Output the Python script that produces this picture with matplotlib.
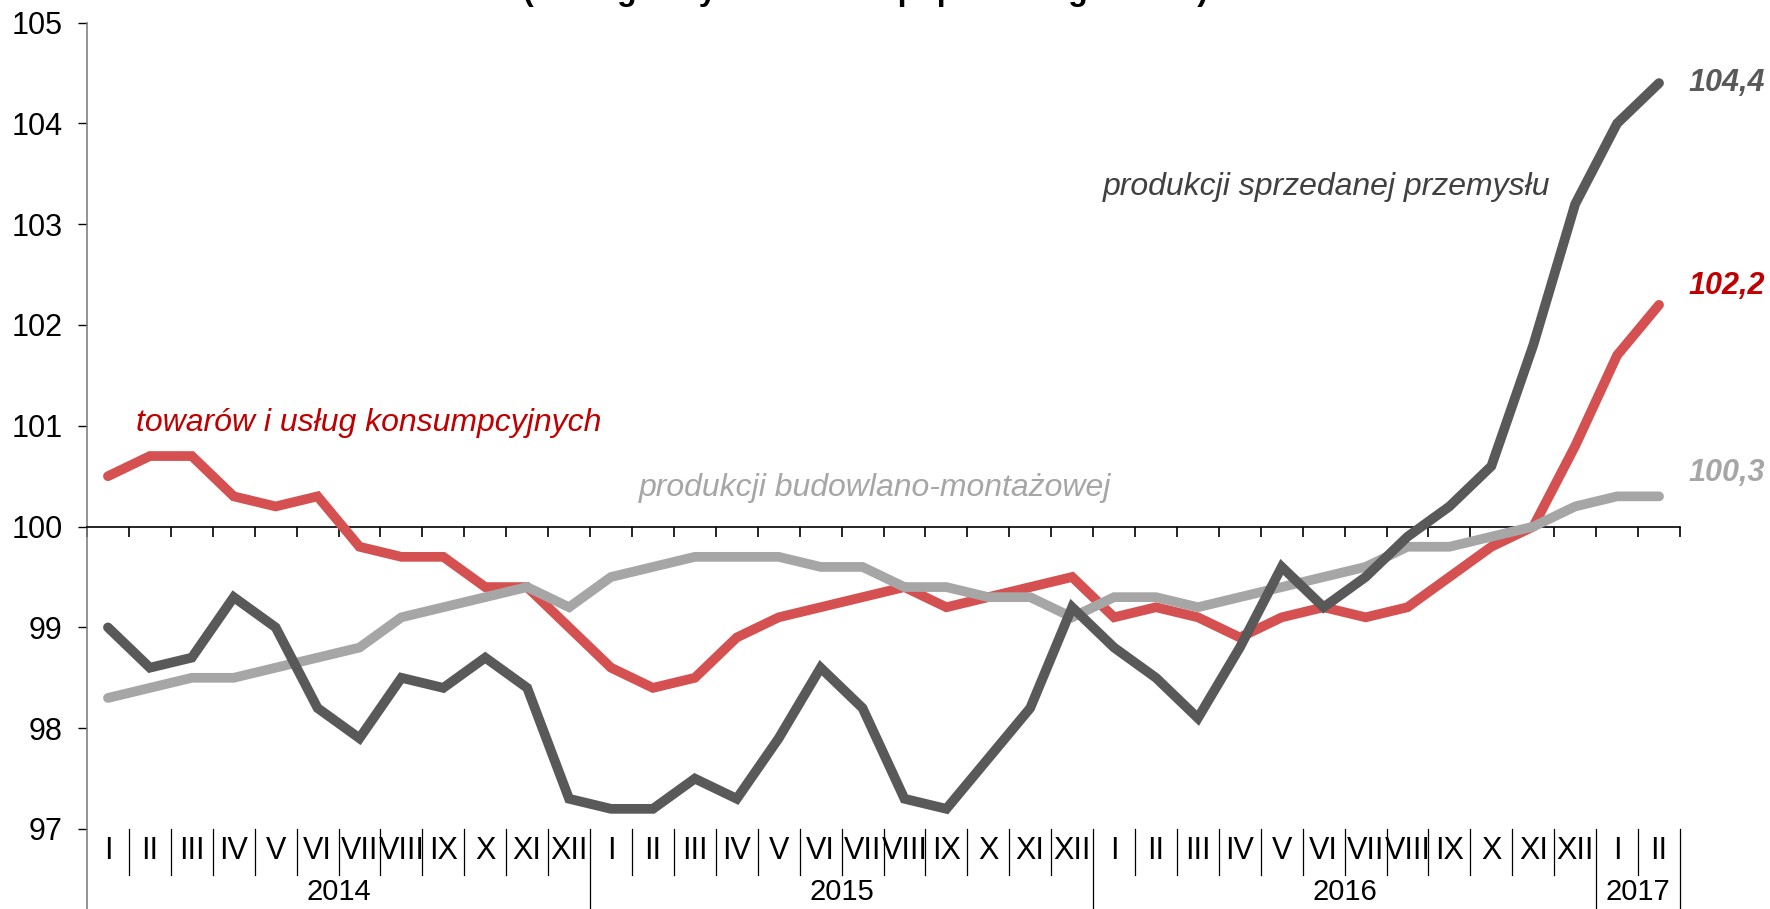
import numpy as np
import matplotlib
matplotlib.use('Agg')
import matplotlib.pyplot as plt
import matplotlib.transforms as mtransforms

plt.rcParams['font.family'] = ['Liberation Sans', 'DejaVu Sans']

# ---------------- data ----------------
months = ['I', 'II', 'III', 'IV', 'V', 'VI', 'VII', 'VIII', 'IX', 'X', 'XI', 'XII'] * 3 + ['I', 'II']
years = ['2014', '2015', '2016', '2017']
year_len = [12, 12, 12, 2]

konsumpcyjne = [100.5, 100.7, 100.7, 100.3, 100.2, 100.3, 99.8, 99.7, 99.7, 99.4, 99.4, 99.0,
                98.6, 98.4, 98.5, 98.9, 99.1, 99.2, 99.3, 99.4, 99.2, 99.3, 99.4, 99.5,
                99.1, 99.2, 99.1, 98.9, 99.1, 99.2, 99.1, 99.2, 99.5, 99.8, 100.0, 100.8,
                101.7, 102.2]
budowlane = [98.3, 98.4, 98.5, 98.5, 98.6, 98.7, 98.8, 99.1, 99.2, 99.3, 99.4, 99.2,
             99.5, 99.6, 99.7, 99.7, 99.7, 99.6, 99.6, 99.4, 99.4, 99.3, 99.3, 99.1,
             99.3, 99.3, 99.2, 99.3, 99.4, 99.5, 99.6, 99.8, 99.8, 99.9, 100.0, 100.2,
             100.3, 100.3]
przemysl = [99.0, 98.6, 98.7, 99.3, 99.0, 98.2, 97.9, 98.5, 98.4, 98.7, 98.4, 97.3,
            97.2, 97.2, 97.5, 97.3, 97.9, 98.6, 98.2, 97.3, 97.2, 97.7, 98.2, 99.2,
            98.8, 98.5, 98.1, 98.8, 99.6, 99.2, 99.5, 99.9, 100.2, 100.6, 101.8, 103.2,
            104.0, 104.4]

C_RED, C_DARK, C_GRAY = '#D55050', '#595959', '#A6A6A6'

fig = plt.figure(figsize=(17.7, 9.09), dpi=100)
ax = fig.add_axes([87 / 1770, 80 / 909, (1680 - 87) / 1770, (829 - 22.6) / 909])

x = np.arange(len(months))
kw = dict(lw=7, solid_capstyle='round', solid_joinstyle='miter')
ax.plot(x, konsumpcyjne, color=C_RED, zorder=3, **kw)
ax.plot(x, budowlane, color=C_GRAY, zorder=4, **kw)
ax.plot(x, przemysl, color=C_DARK, zorder=5, **kw)

ax.set_xlim(-0.5, len(months) - 0.5)
ax.set_ylim(97, 105)

# axes styling: x axis crosses at 100
for s in ['top', 'right']:
    ax.spines[s].set_visible(False)
ax.spines['left'].set_visible(False)
ax.spines['bottom'].set_position(('data', 100))
ax.spines['bottom'].set_linewidth(1.2)
ax.set_xticks(np.arange(-0.5, len(months), 1))
ax.tick_params(axis='x', direction='out', length=7, width=1.2, labelbottom=False)
ax.set_yticks(range(97, 106))
ax.tick_params(axis='y', direction='out', length=6.5, width=1, pad=11, labelsize=22)

trans = mtransforms.blended_transform_factory(ax.transData, ax.transAxes)
# left axis line running to bottom of the figure
ax.plot([-0.5, -0.5], [1, -0.1], transform=trans, color='#808080', lw=1.2, clip_on=False)

# category table under the plot
bounds = np.cumsum([0] + year_len) - 0.5
for b in np.arange(0.5, len(months) - 1, 1):
    if b not in bounds:
        ax.plot([b, b], [0, -0.057], transform=trans, color='black', lw=0.9, clip_on=False)
for b in bounds[1:]:
    ax.plot([b, b], [0, -0.1], transform=trans, color='black', lw=0.9, clip_on=False)
for i, m in enumerate(months):
    ax.text(i, -0.027, m, transform=trans, ha='center', va='center', fontsize=22)
start = 0
for y, n in zip(years, year_len):
    ax.text(start + (n - 1) / 2, -0.078, y, transform=trans, ha='center', va='center', fontsize=21)
    start += n

# series labels
lab = dict(fontsize=23, style='italic', va='center', ha='left')
ax.text(0.67, 101.03, 'towarów i usług konsumpcyjnych', color='#C00000', **lab)
ax.text(12.67, 100.38, 'produkcji budowlano-montażowej', color=C_GRAY, **lab)
ax.text(23.74, 103.37, 'produkcji sprzedanej przemysłu', color='#404040', **lab)

# end values
end = dict(fontsize=22, style='italic', fontweight='bold', va='center', ha='left',
           textcoords='offset points')
ax.annotate('104,4', xy=(x[-1], przemysl[-1]), xytext=(21, 0), color=C_DARK, **end)
ax.annotate('102,2', xy=(x[-1], konsumpcyjne[-1]), xytext=(21, 13.5), color='#C00000', **end)
ax.annotate('100,3', xy=(x[-1], budowlane[-1]), xytext=(21, 17), color=C_GRAY, **end)

# title, cut off by the top edge as in the source (only descenders show)
fig.text(0.489, 1.0, '(analogiczny okres roku poprzedniego = 100)', ha='center', va='baseline',
         fontsize=23, fontweight='bold')

fig.savefig('out.png', dpi=100)
